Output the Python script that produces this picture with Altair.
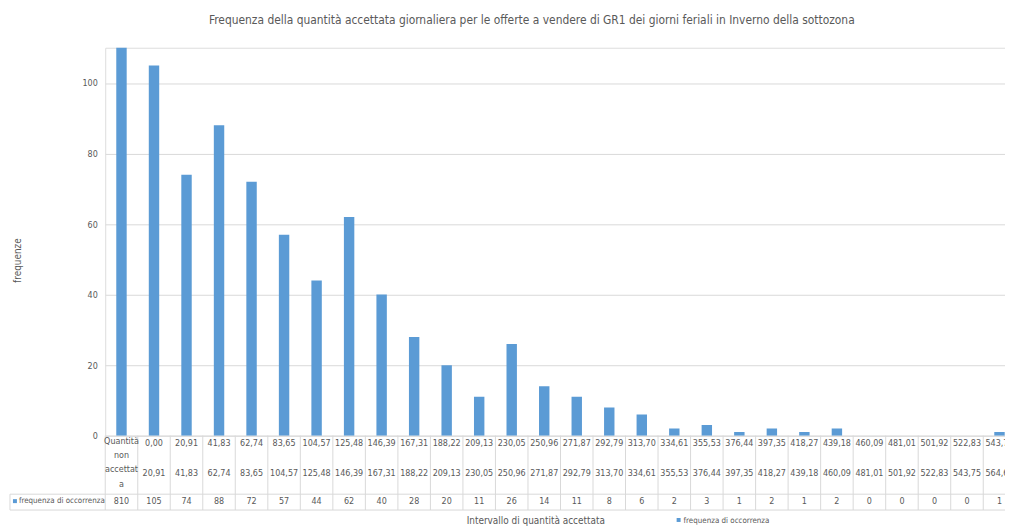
import altair as alt
import pandas as pd

# ---- data ----
lower = ["0,00", "20,91", "41,83", "62,74", "83,65", "104,57", "125,48", "146,39",
         "167,31", "188,22", "209,13", "230,05", "250,96", "271,87", "292,79", "313,70",
         "334,61", "355,53", "376,44", "397,35", "418,27", "439,18", "460,09", "481,01",
         "501,92", "522,83", "543,75"]
upper = ["20,91", "41,83", "62,74", "83,65", "104,57", "125,48", "146,39", "167,31",
         "188,22", "209,13", "230,05", "250,96", "271,87", "292,79", "313,70", "334,61",
         "355,53", "376,44", "397,35", "418,27", "439,18", "460,09", "481,01", "501,92",
         "522,83", "543,75", "564,66"]
first_col = "Quantità\nnon\naccettat\na"
counts = [810, 105, 74, 88, 72, 57, 44, 62, 40, 28, 20, 11, 26, 14, 11, 8, 6,
          2, 3, 1, 2, 1, 2, 0, 0, 0, 0, 1]
series_name = "frequenza di occorrenza"
x_title = "Intervallo di quantità accettata"
y_title = "frequenze"
title = ("Frequenza della quantità accettata giornaliera per le offerte a vendere "
         "di GR1 dei giorni feriali in Inverno della sottozona")
y_ticks = [0, 20, 40, 60, 80, 100]

FONT = "Liberation Sans Narrow, DejaVu Sans Condensed, Arial Narrow, sans-serif"
GREY = "#595959"
LINE = "#D9D9D9"
BLUE = "#5B9BD5"

n = len(counts)
df = pd.DataFrame({
    "idx": list(range(n)),
    "count": counts,
    "low": [first_col] + lower,
    "up": [""] + upper,
})

W = 907
STEP = 32.78
H = 391

xscale = alt.Scale(range=[0, STEP * n], paddingInner=0, paddingOuter=0)
Xc = alt.X("idx:O", scale=xscale, axis=None, bandPosition=0.5)
X0 = alt.X("idx:O", scale=xscale, axis=None, bandPosition=0)

base = alt.Chart(df)

bars = base.mark_bar(size=10.5, clip=True, color=BLUE).encode(
    x=Xc,
    y=alt.Y("count:Q",
            scale=alt.Scale(domain=[0, 110], nice=False, zero=True),
            axis=alt.Axis(values=y_ticks, grid=True, gridColor=LINE, domain=False,
                          ticks=False, labelColor=GREY, labelFontSize=9, labelFont=FONT,
                          labelPadding=8, title=y_title, titleColor=GREY,
                          titleFont=FONT, titleFontSize=10, titleFontWeight="normal",
                          titleAngle=-90, titleX=-88, titleY=214,
                          titleAlign="center", titleBaseline="middle")),
)

txt = dict(font=FONT, fontSize=9, color=GREY)

row_low = alt.Chart(df[df.idx > 0]).mark_text(baseline="middle", align="center", **txt).encode(
    x=Xc, y=alt.value(398), text="low:N")
row_first = alt.Chart(df[df.idx == 0]).mark_text(baseline="top", align="center",
                                                   lineBreak="\n", lineHeight=14.5, **txt).encode(
    x=Xc, y=alt.value(392), text="low:N")
row_up = alt.Chart(df[df.idx > 0]).mark_text(baseline="middle", align="center", **txt).encode(
    x=Xc, y=alt.value(429), text="up:N")
row_cnt = base.mark_text(baseline="middle", align="center", **txt).encode(
    x=Xc, y=alt.value(457), text="count:Q")

vlines = base.mark_rule(color=LINE, strokeWidth=1).encode(
    x=X0, y=alt.value(H), y2=alt.value(466))

one = alt.Chart(pd.DataFrame({"label": [series_name]}))
hline1 = one.mark_rule(color=LINE).encode(x=alt.value(-96), x2=alt.value(W + 20), y=alt.value(450))
hline2 = one.mark_rule(color=LINE).encode(x=alt.value(-96), x2=alt.value(W + 20), y=alt.value(466))
vleft = one.mark_rule(color=LINE).encode(x=alt.value(-96), y=alt.value(450), y2=alt.value(466))

row_label = one.mark_text(align="left", baseline="middle", font=FONT, fontSize=8,
                          color=GREY).encode(
    x=alt.value(-87), y=alt.value(457), text="label:N")
row_sq = one.mark_rect(color=BLUE).encode(
    x=alt.value(-93), x2=alt.value(-89), y=alt.value(455), y2=alt.value(459))

xlab = alt.Chart(pd.DataFrame({"t": [x_title]})).mark_text(
    align="center", baseline="middle", font=FONT, fontSize=10, color=GREY).encode(
    x=alt.value(434), y=alt.value(477), text="t:N")
leg_sq = one.mark_rect(color=BLUE).encode(
    x=alt.value(576), x2=alt.value(580), y=alt.value(474), y2=alt.value(478))
leg_txt = one.mark_text(align="left", baseline="middle", font=FONT, fontSize=8,
                        color=GREY).encode(
    x=alt.value(583), y=alt.value(477), text="label:N")

chart = alt.layer(
    bars, vlines, hline1, hline2, vleft, row_low, row_first, row_up, row_cnt,
    row_label, row_sq, xlab, leg_sq, leg_txt,
).properties(
    width=W, height=H,
    title=alt.TitleParams(title, font=FONT, fontSize=12, fontWeight="normal",
                          color=GREY, anchor="middle", dx=-23.5, baseline="bottom",
                          offset=9),
    autosize=alt.AutoSizeParams(type="none"),
    padding={"left": 98, "top": 38, "right": 0, "bottom": 90},
).configure_view(stroke=None).configure(background="white")

chart.save("out.html", embed_options={"renderer": "svg", "actions": False})
